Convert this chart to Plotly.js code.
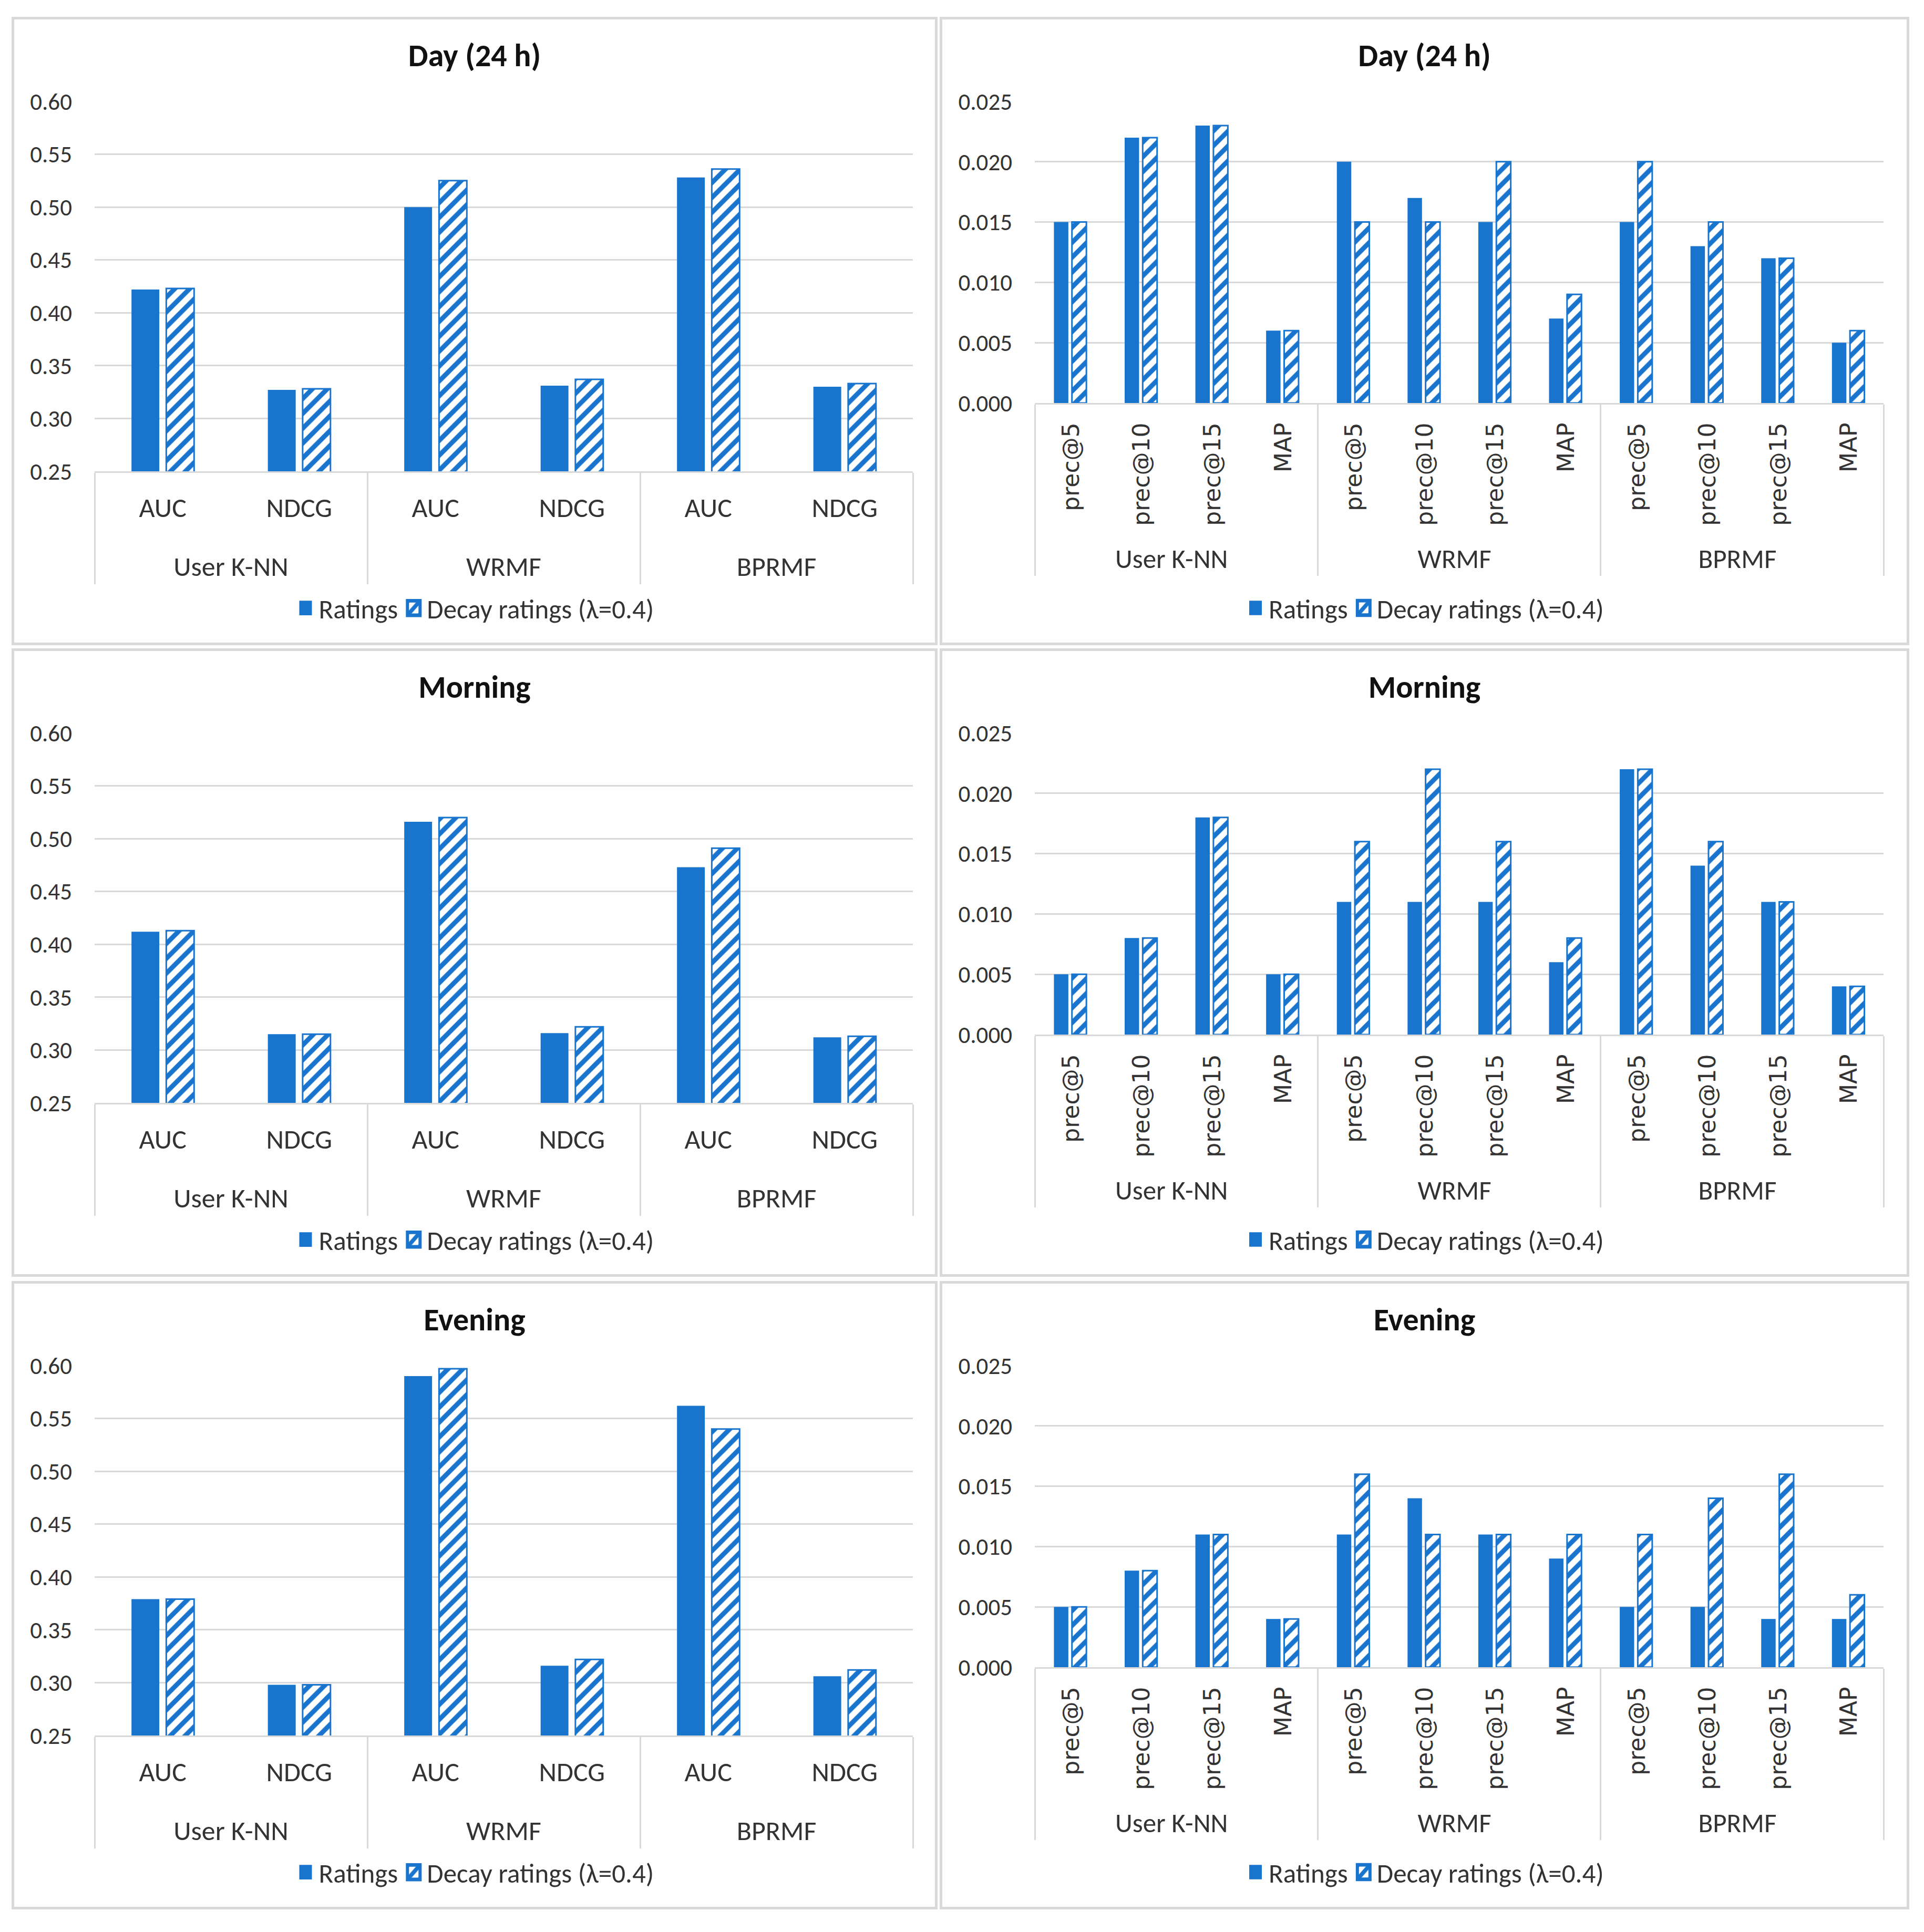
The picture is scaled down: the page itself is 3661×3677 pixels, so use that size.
<!DOCTYPE html>
<html>
<head>
<meta charset="utf-8">
<script src="https://cdn.plot.ly/plotly-3.0.1.min.js"></script>
<style>
body { margin: 0; background: #fff; width: 3661px; height: 3677px; position: relative; }
.panel { position: absolute; border: 5px solid #d9d9d9; }
</style>
</head>
<body>
<div id="dayAuc" class="panel" style="left:22px;top:32px;"></div>
<div id="dayPrec" class="panel" style="left:1788px;top:32px;"></div>
<div id="morningAuc" class="panel" style="left:22px;top:1234px;"></div>
<div id="morningPrec" class="panel" style="left:1788px;top:1234px;"></div>
<div id="eveningAuc" class="panel" style="left:22px;top:2438px;"></div>
<div id="eveningPrec" class="panel" style="left:1788px;top:2438px;"></div>
<script>
// categories
var algos = ["User K-NN", "WRMF", "BPRMF"];
var rankMetrics = ["AUC", "NDCG"];
var precMetrics = ["prec@5", "prec@10", "prec@15", "MAP"];

// Day (24 h) -- AUC / NDCG, grouped by algorithm
var dayAucRatings = [0.422, 0.327, 0.500, 0.331, 0.528, 0.330];
var dayAucDecay   = [0.423, 0.328, 0.525, 0.337, 0.536, 0.333];
// Day (24 h) -- precision / MAP
var dayPrecRatings = [0.015, 0.022, 0.023, 0.006, 0.020, 0.017, 0.015, 0.007, 0.015, 0.013, 0.012, 0.005];
var dayPrecDecay   = [0.015, 0.022, 0.023, 0.006, 0.015, 0.015, 0.020, 0.009, 0.020, 0.015, 0.012, 0.006];

// Morning
var morningAucRatings = [0.412, 0.315, 0.516, 0.316, 0.473, 0.312];
var morningAucDecay   = [0.413, 0.315, 0.520, 0.322, 0.491, 0.313];
var morningPrecRatings = [0.005, 0.008, 0.018, 0.005, 0.011, 0.011, 0.011, 0.006, 0.022, 0.014, 0.011, 0.004];
var morningPrecDecay   = [0.005, 0.008, 0.018, 0.005, 0.016, 0.022, 0.016, 0.008, 0.022, 0.016, 0.011, 0.004];

// Evening
var eveningAucRatings = [0.379, 0.298, 0.590, 0.316, 0.562, 0.306];
var eveningAucDecay   = [0.379, 0.298, 0.597, 0.322, 0.540, 0.312];
var eveningPrecRatings = [0.005, 0.008, 0.011, 0.004, 0.011, 0.014, 0.011, 0.009, 0.005, 0.005, 0.004, 0.004];
var eveningPrecDecay   = [0.005, 0.008, 0.011, 0.004, 0.016, 0.011, 0.011, 0.011, 0.011, 0.014, 0.016, 0.006];

var blue = "#1874cd";
var grid = "#d9d9d9";
var txt = "#333333";
var font = "Carlito, Calibri, Lato, 'Open Sans', sans-serif";

// two-level x categories.
// left charts: blank 2nd line under AUC/NDCG pushes the algorithm row down
// right charts: rotated metric names are in a wider Verdana-like face
function multiX(metrics, wide) {
  var outer = [], inner = [];
  algos.forEach(function (a) {
    metrics.forEach(function (m) {
      outer.push(a);
      inner.push(wide
        ? "<span style='font-family:DejaVu Sans;font-size:44px'>" + m + "</span>"
        : m + "<br>\u00a0");
    });
  });
  return [outer, inner];
}

function drawPanel(id, title, metrics, ratings, decay, wide) {
  var w = wide ? 1835 : 1752;
  var h = 1186;
  var el = document.getElementById(id);
  el.style.width = w + "px";
  el.style.height = h + "px";
  var x = multiX(metrics, wide);
  var m = wide ? { l: 176, r: 44, t: 156, b: 456, autoexpand: false }
               : { l: 153, r: 42, t: 156, b: 326, autoexpand: false };
  var plotW = w - m.l - m.r;

  var trace1 = {
    x: x, y: ratings, type: "bar", name: "Ratings",
    marker: { color: blue, line: { width: 0 } }
  };
  var trace2 = {
    x: x, y: decay, type: "bar", name: "Decay ratings (λ=0.4)",
    marker: {
      color: "white",
      line: { color: blue, width: 3 },
      pattern: { shape: "/", fgcolor: blue, bgcolor: "white", size: 20, solidity: 0.45, fillmode: "replace" }
    }
  };

  var layout = {
    width: w, height: h,
    paper_bgcolor: "white", plot_bgcolor: "white",
    font: { family: font, size: 46, color: txt },
    margin: m,
    title: {
      text: "<b>" + title + "</b>",
      x: 0.5, xref: "container", y: 1 - 68 / h, yref: "container", yanchor: "middle",
      font: { family: font, size: 60, color: "#111" }
    },
    barmode: "group",
    bargap: 0.49,
    bargroupgap: 0.2,
    showlegend: true,
    legend: {
      orientation: "h",
      x: (w / 2 - m.l) / plotW, xanchor: "center",
      y: wide ? -0.68 : -0.37, yanchor: "middle",
      itemwidth: 40,
      font: { family: font, size: 51, color: txt }
    },
    xaxis: {
      type: "multicategory",
      showline: true, linecolor: grid, linewidth: 3,
      showdividers: true, dividercolor: grid, dividerwidth: 3,
      tickangle: wide ? -90 : 0,
      ticklabelstandoff: wide ? 14 : 22,
      tickfont: { family: font, size: wide ? 51 : 52, color: txt },
      showgrid: false
    },
    yaxis: {
      range: wide ? [0, 0.025] : [0.25, 0.6],
      dtick: wide ? 0.005 : 0.05,
      tickformat: wide ? ".3f" : ".2f",
      showgrid: true, gridcolor: grid, gridwidth: 3,
      zeroline: false, showline: false,
      ticks: "", ticklen: 0,
      ticklabelstandoff: 42,
      tickfont: { family: font, size: 45, color: txt }
    }
  };

  Plotly.newPlot(id, [trace1, trace2], layout, { displayModeBar: false, staticPlot: true })
    .then(function (gd) {
      // Excel draws bigger legend swatches than plotly's fixed 12px box
      gd.querySelectorAll(".legendpoints path").forEach(function (p) {
        var t = p.getAttribute("transform") || "";
        p.setAttribute("transform", t + " scale(2,2.3)");
      });
    });
}

drawPanel("dayAuc", "Day (24 h)", rankMetrics, dayAucRatings, dayAucDecay, false);
drawPanel("dayPrec", "Day (24 h)", precMetrics, dayPrecRatings, dayPrecDecay, true);
drawPanel("morningAuc", "Morning", rankMetrics, morningAucRatings, morningAucDecay, false);
drawPanel("morningPrec", "Morning", precMetrics, morningPrecRatings, morningPrecDecay, true);
drawPanel("eveningAuc", "Evening", rankMetrics, eveningAucRatings, eveningAucDecay, false);
drawPanel("eveningPrec", "Evening", precMetrics, eveningPrecRatings, eveningPrecDecay, true);
</script>
</body>
</html>
